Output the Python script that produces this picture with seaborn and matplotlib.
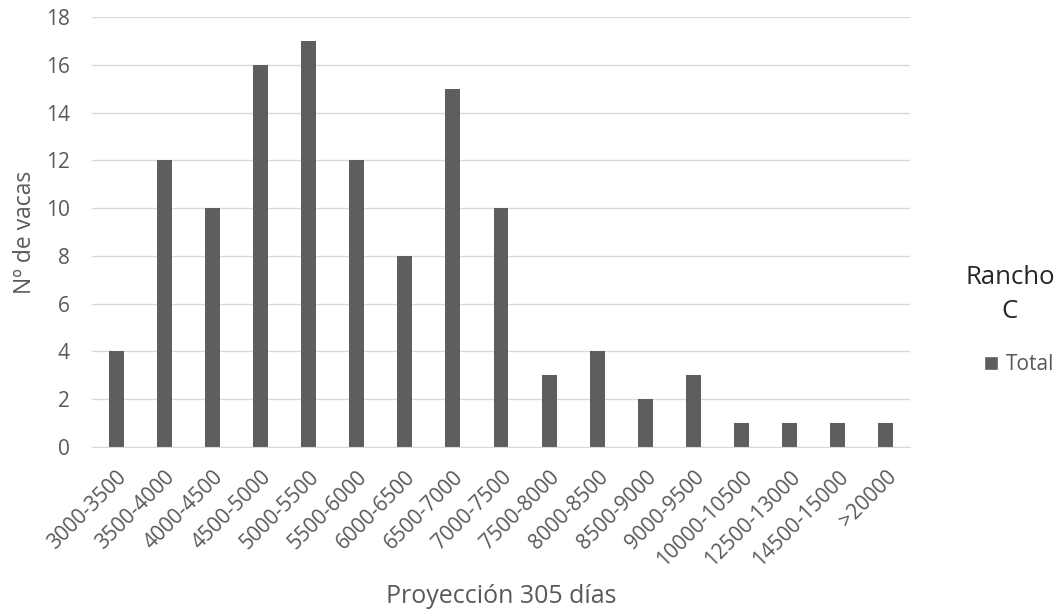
import pandas as pd
import seaborn as sns
import matplotlib.pyplot as plt
from matplotlib.patches import Patch

# Data
rangos = ['3000-3500', '3500-4000', '4000-4500', '4500-5000', '5000-5500', '5500-6000',
          '6000-6500', '6500-7000', '7000-7500', '7500-8000', '8000-8500', '8500-9000',
          '9000-9500', '10000-10500', '12500-13000', '14500-15000', '>20000']
vacas = [4, 12, 10, 16, 17, 12, 8, 15, 10, 3, 4, 2, 3, 1, 1, 1, 1]

df = pd.DataFrame({'rango': rangos, 'vacas': vacas})

sns.set_style('white')
plt.rcParams['font.family'] = ['Open Sans', 'DejaVu Sans']

fig = plt.figure(figsize=(10.6, 6.16), dpi=100)
ax = fig.add_axes([0.0868, 0.2744, 0.7717, 0.698])

bar_col = '#5e5e5e'
txt_col = '#595959'
sns.barplot(data=df, x='rango', y='vacas', color=bar_col, width=0.31, ax=ax,
            saturation=1)
for b in ax.patches:
    b.set_edgecolor('none')

ax.set_ylim(0, 18)
ax.set_xlim(-0.5, len(rangos) - 0.5)
ax.set_yticks(range(0, 19, 2))
ax.yaxis.grid(True, color='#d9d9d9', linewidth=1)
ax.set_axisbelow(True)
for s in ['top', 'right', 'left']:
    ax.spines[s].set_visible(False)
ax.spines['bottom'].set_color('#d9d9d9')

ax.tick_params(axis='both', length=0, labelsize=15, colors=txt_col)
ax.tick_params(axis='y', pad=16)
ax.tick_params(axis='x', pad=14)
plt.setp(ax.get_xticklabels(), rotation=45, ha='right', rotation_mode='anchor')

ax.set_xlabel('Proyección 305 días', fontsize=18, color=txt_col, labelpad=10)
ax.set_ylabel('Nº de vacas', fontsize=16.5, color=txt_col, labelpad=6)

leg = fig.legend(handles=[Patch(facecolor=bar_col, label='Total')],
                 title='Rancho\nC', loc='center right', bbox_to_anchor=(0.995, 0.48),
                 frameon=False, fontsize=15, title_fontsize=18.5,
                 borderpad=0, borderaxespad=0,
                 handlelength=0.65, handleheight=0.65, handletextpad=0.4)
leg.get_title().set_multialignment('center')
leg.get_title().set_linespacing(1.45)
leg._legend_box.sep = 22
leg._legend_box.align = 'right'
for t in leg.get_texts():
    t.set_color(txt_col)

fig.savefig('out.png', dpi=100)
